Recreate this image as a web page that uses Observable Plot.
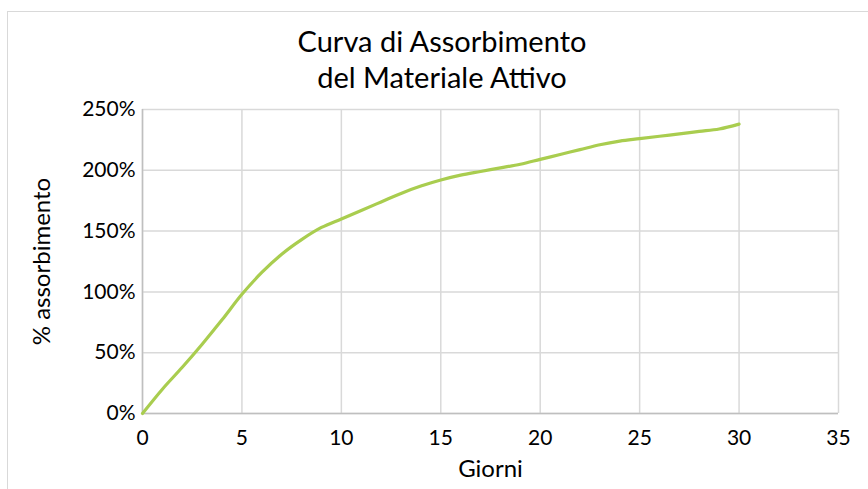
<!DOCTYPE html>
<html>
<head>
<meta charset="utf-8">
<script src="https://cdn.jsdelivr.net/npm/d3@7"></script>
<script src="https://cdn.jsdelivr.net/npm/@observablehq/plot@0.6"></script>
<style>
  html, body { margin: 0; padding: 0; background: #fff; }
  #wrap { position: relative; width: 868px; height: 489px; overflow: hidden; font-family: Lato, "Open Sans", sans-serif; }
  #frame { position: absolute; left: 7px; top: 11px; width: 900px; height: 600px; border-top: 1.5px solid #d9d9d9; border-left: 1.5px solid #d9d9d9; }
  #title { position: absolute; left: 142px; width: 600px; top: 23px; text-align: center; font-size: 29px; line-height: 36px; color: #000; }
  #chart { position: absolute; left: 0; top: 0; }
</style>
</head>
<body>
<div id="wrap">
  <div id="frame"></div>
  <div id="chart"></div>
  <div id="title"></div>
</div>
<script>
const titleLines = ["Curva di Assorbimento", "del Materiale Attivo"];
const xLabel = "Giorni";
const yLabel = "% assorbimento";
const days = [0,1,2,3,4,5,6,7,8,9,10,11,12,13,14,15,16,17,18,19,20,21,22,23,24,25,26,27,28,29,30];
const absorption = [0,20,38,57,77,98,116,131,143,153,160,167,174,181,187,192,196,199,202,205,209,213,217,221,224,226,228,230,232,234,238];
const xTicks = [0,5,10,15,20,25,30,35];
const yTicks = [0,50,100,150,200,250];

document.getElementById("title").innerHTML = titleLines.join("<br>");

const data = days.map((d, i) => ({day: d, value: absorption[i]}));

const chart = Plot.plot({
  width: 868,
  height: 489,
  marginLeft: 142,
  marginRight: 30,
  marginTop: 109,
  marginBottom: 76,
  style: {background: "transparent", fontFamily: "Lato, 'Open Sans', sans-serif", fontSize: "21px", color: "#000"},
  x: {domain: [0, 35], ticks: xTicks, tickSize: 0, tickPadding: 17, label: null},
  y: {domain: [0, 250], ticks: yTicks, tickSize: 0, tickPadding: 7, tickFormat: d => d + "%", label: null},
  marks: [
    Plot.gridX(xTicks, {stroke: "#d9d9d9", strokeOpacity: 1, strokeWidth: 1.5}),
    Plot.gridY(yTicks, {stroke: "#d9d9d9", strokeOpacity: 1, strokeWidth: 1.5}),
    Plot.ruleX([0], {stroke: "#bfbfbf", strokeWidth: 1.5}),
    Plot.ruleY([0], {stroke: "#bfbfbf", strokeWidth: 1.5}),
    Plot.axisX({ticks: xTicks, tickSize: 0, tickPadding: 17, fontSize: 21, label: null}),
    Plot.axisY({ticks: yTicks, tickSize: 0, tickPadding: 7, tickFormat: d => d + "%", fontSize: 21, label: null}),
    Plot.line(data, {x: "day", y: "value", stroke: "#a9cd4f", strokeWidth: 3.2, curve: "catmull-rom"}),
    Plot.text([xLabel], {frameAnchor: "bottom", dy: 63, fontSize: 24, fill: "#000"}),
    Plot.text([yLabel], {frameAnchor: "left", dx: -100, rotate: -90, textAnchor: "middle", fontSize: 24, fill: "#000"})
  ]
});
document.getElementById("chart").appendChild(chart);
</script>
</body>
</html>
